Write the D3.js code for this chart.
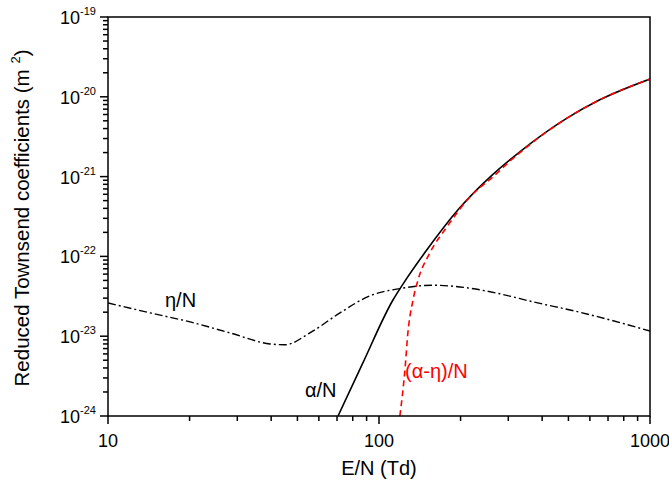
<!DOCTYPE html>
<html><head><meta charset="utf-8">
<script src="https://cdn.jsdelivr.net/npm/d3@7"></script>
<style>body{margin:0;background:#fff}svg{display:block;font-family:"Liberation Sans",Arial,sans-serif}</style>
</head><body><svg id="c" width="669" height="482"></svg>
<script>
// Data (E/N in Td, coefficients in m^2)
const etaE   = [10, 14.3, 20.1, 28.2, 39.6, 45, 55.6, 71.8, 92.4, 119.4, 158, 210, 279, 369, 550, 1000];
const etaV   = [2.61e-23, 1.96e-23, 1.51e-23, 1.10e-23, 8.0e-24, 7.8e-24, 1.10e-23, 1.96e-23, 3.2e-23, 3.95e-23, 4.35e-23, 4.05e-23, 3.4e-23, 2.7e-23, 2.0e-23, 1.16e-23];
const alphaE = [70.6, 86.6, 112.6, 122.6, 150, 198.6, 262, 330, 494, 650, 1000];
const alphaV = [1.0e-24, 4.4e-24, 2.84e-23, 4.5e-23, 1.2e-22, 4.06e-22, 1.05e-21, 2.03e-21, 5.4e-21, 9.1e-21, 1.67e-20];
const diffE  = [119.4, 124.9, 127.6, 133.5, 139.3, 153.9, 178, 216, 263, 313, 494, 650, 1000];
const diffV  = [1.0e-24, 4.1e-24, 1.04e-23, 2.84e-23, 5.06e-23, 1.1e-22, 2.34e-22, 5.5e-22, 9.9e-22, 1.7e-21, 5.4e-21, 9.1e-21, 1.67e-20];
const xTicks = [10, 100, 1000];
const yExps  = [-19, -20, -21, -22, -23, -24];

const svg = d3.select("#c");
const L = 108, R = 650, T = 17, B = 416;
const x = d3.scaleLog().domain([10, 1000]).range([L, R]);
const y = d3.scaleLog().domain([1e-24, 1e-19]).range([B, T]);

svg.append("defs").append("clipPath").attr("id","clip")
  .append("rect").attr("x",L).attr("y",T).attr("width",R-L).attr("height",B-T);

const line = d3.line().x(d=>x(d[0])).y(d=>y(d[1])).curve(d3.curveMonotoneX);
const g = svg.append("g").attr("clip-path","url(#clip)");
g.append("path").datum(d3.zip(etaE, etaV)).attr("d", line)
  .attr("fill","none").attr("stroke","#000").attr("stroke-width",1.4)
  .attr("stroke-dasharray","8,3,2,3");
g.append("path").datum(d3.zip(alphaE, alphaV)).attr("d", line)
  .attr("fill","none").attr("stroke","#000").attr("stroke-width",1.6);
g.append("path").datum(d3.zip(diffE, diffV)).attr("d", line)
  .attr("fill","none").attr("stroke","#ff0000").attr("stroke-width",1.6)
  .attr("stroke-dasharray","6,4");

// minor ticks
const minorX = [];
[10,100].forEach(b=>{for(let k=2;k<=9;k++) minorX.push(b*k);});
const minorY = [];
[1e-24,1e-23,1e-22,1e-21,1e-20].forEach(b=>{for(let k=2;k<=9;k++) minorY.push(b*k);});

const ax = svg.append("g").attr("stroke","#000").attr("stroke-width",1.5);
ax.selectAll(".mx").data(minorX).join("line")
  .attr("x1",d=>x(d)).attr("x2",d=>x(d)).attr("y1",B).attr("y2",B+5);
ax.selectAll(".Mx").data(xTicks).join("line")
  .attr("x1",d=>x(d)).attr("x2",d=>x(d)).attr("y1",B).attr("y2",B+8);
ax.selectAll(".my").data(minorY).join("line")
  .attr("y1",d=>y(d)).attr("y2",d=>y(d)).attr("x1",L).attr("x2",L-5);
ax.selectAll(".My").data(yExps).join("line")
  .attr("y1",d=>y(Math.pow(10,d))).attr("y2",d=>y(Math.pow(10,d))).attr("x1",L).attr("x2",L-8);
svg.append("rect").attr("x",L).attr("y",T).attr("width",R-L).attr("height",B-T)
  .attr("fill","none").attr("stroke","#000").attr("stroke-width",1.5);

// tick labels
svg.selectAll(".xl").data(xTicks).join("text")
  .attr("x",d=>x(d)).attr("y",B+31).attr("text-anchor","middle")
  .attr("font-size",18).text(d=>d);
const yl = svg.selectAll(".yl").data(yExps).join("text")
  .attr("x",96).attr("y",d=>y(Math.pow(10,d))+7).attr("text-anchor","end").attr("font-size",18);
yl.append("tspan").text("10");
yl.append("tspan").attr("font-size",11).attr("dy",-9).text(d=>String(d));

// axis titles
svg.append("text").attr("x",(L+R)/2).attr("y",475).attr("text-anchor","middle")
  .attr("font-size",20).text("E/N (Td)");
const yt = svg.append("text").attr("transform","translate(29,218) rotate(-90)")
  .attr("text-anchor","middle").attr("font-size",20.5);
yt.append("tspan").text("Reduced Townsend coefficients (m ");
yt.append("tspan").attr("font-size",13).attr("dy",-9).text("2");
yt.append("tspan").attr("dy",9).text(")");

// curve labels
svg.append("text").attr("x",165).attr("y",307).attr("font-size",20).text("η/N");
svg.append("text").attr("x",305).attr("y",397).attr("font-size",20).text("α/N");
svg.append("text").attr("x",405).attr("y",378).attr("font-size",20).attr("fill","#ff0000").text("(α-η)/N");
</script></body></html>
